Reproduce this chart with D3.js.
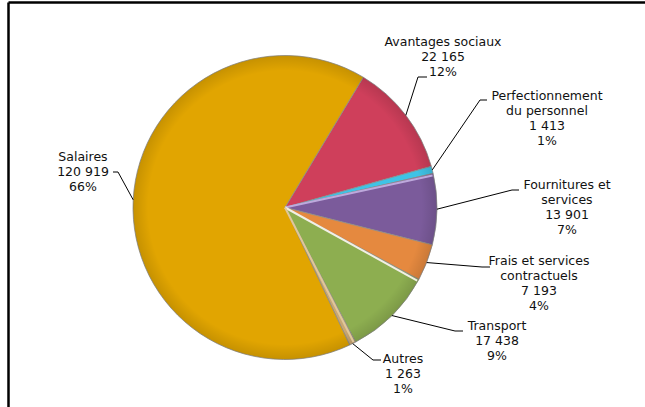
<!DOCTYPE html>
<html>
<head>
<meta charset="utf-8">
<script src="https://cdn.jsdelivr.net/npm/d3@7"></script>
<style>
  body { margin: 0; background: #fff; }
  svg text { font-family: "DejaVu Sans", Verdana, sans-serif; font-size: 12.5px; fill: #111; }
</style>
</head>
<body>
<svg id="chart" width="645" height="407"></svg>
<script>
// slices in clockwise order, starting just right of 12 o'clock
const categories = ["Avantages sociaux", "Perfectionnement du personnel", "Fournitures et services",
    "Frais et services contractuels", "Transport", "Autres", "Salaires"];
const values = [22165, 1413, 13901, 7193, 17438, 1263, 120919];
const percents = ["12%", "1%", "7%", "4%", "9%", "1%", "66%"];
const labelLines = [
    ["Avantages sociaux"],
    ["Perfectionnement", "du personnel"],
    ["Fournitures et", "services"],
    ["Frais et services", "contractuels"],
    ["Transport"],
    ["Autres"],
    ["Salaires"]
];
const colors = ["#cf3f5b", "#3fc3e6", "#7b5b9b", "#e5893f", "#8dae50", "#c9a774", "#e1a501"];

// label placement: text centre x, first line y, leader elbow
const labelPos = [
    {x: 443, y: 42, elbow: [427, 77], knee: [418, 77]},
    {x: 547, y: 96, elbow: [487, 100], knee: [480, 100]},
    {x: 567, y: 185, elbow: [519, 190], knee: [512, 190]},
    {x: 539, y: 261, elbow: [490, 267], knee: [482, 267]},
    {x: 497, y: 326, elbow: [463, 331], knee: [455, 331]},
    {x: 403, y: 359, elbow: [381, 360], knee: [373, 360]},
    {x: 83, y: 157, elbow: [113, 172], knee: [118, 172]}
];

const fmt = v => d3.format(",")(v).replace(/,/g, " ");

const svg = d3.select("#chart");
const cx = 285, cy = 207.5, r = 152;

// frame (top and left edges are visible)
svg.append("line").attr("x1", 8.5).attr("y1", 2.5).attr("x2", 645).attr("y2", 2.5)
    .attr("stroke", "#000").attr("stroke-width", 2.5);
svg.append("line").attr("x1", 8.5).attr("y1", 2.5).attr("x2", 8.5).attr("y2", 407)
    .attr("stroke", "#000").attr("stroke-width", 2.5);

const start = 31 * Math.PI / 180;
const pie = d3.pie().sort(null).startAngle(start).endAngle(start + 2 * Math.PI);
const arcs = pie(values);
const arc = d3.arc().innerRadius(0).outerRadius(r);

const g = svg.append("g").attr("transform", `translate(${cx},${cy})`);

const defs = svg.append("defs");
const shade = defs.append("radialGradient").attr("id", "shade")
    .attr("cx", "50%").attr("cy", "50%").attr("r", "50%");
shade.append("stop").attr("offset", "0.9").attr("stop-color", "#000").attr("stop-opacity", 0);
shade.append("stop").attr("offset", "1").attr("stop-color", "#000").attr("stop-opacity", 0.12);

g.selectAll("path.slice")
    .data(arcs)
    .join("path")
    .attr("class", "slice")
    .attr("d", arc)
    .attr("fill", (d, i) => colors[i])
    .attr("stroke", "#8c8c8c")
    .attr("stroke-width", 0.8);

// soft rim shading
g.append("circle").attr("r", r).attr("fill", "url(#shade)");

// light bevel lines on some slice edges
const bevel = [{i: 2, color: "#bda9dc"}, {i: 4, color: "#f2efe6"}, {i: 5, color: "#e0c79a"}];
bevel.forEach(b => {
    const a = arcs[b.i].startAngle + 0.012;
    g.append("line")
        .attr("x1", 0).attr("y1", 0)
        .attr("x2", Math.sin(a) * (r - 1)).attr("y2", -Math.cos(a) * (r - 1))
        .attr("stroke", b.color).attr("stroke-width", 2);
});

// leader lines and labels
const outer = d3.arc().innerRadius(r).outerRadius(r);
arcs.forEach((d, i) => {
    const p = labelPos[i];
    const [ex, ey] = outer.centroid(d);
    svg.append("polyline")
        .attr("points", [[p.elbow[0], p.elbow[1]], [p.knee[0], p.knee[1]], [cx + ex, cy + ey]].join(" "))
        .attr("fill", "none").attr("stroke", "#000").attr("stroke-width", 1);

    const lines = labelLines[i].concat([fmt(values[i]), percents[i]]);
    const t = svg.append("text").attr("text-anchor", "middle");
    lines.forEach((s, k) => {
        t.append("tspan").attr("x", p.x).attr("y", p.y + 4 + k * 15).text(s);
    });
});
</script>
</body>
</html>
